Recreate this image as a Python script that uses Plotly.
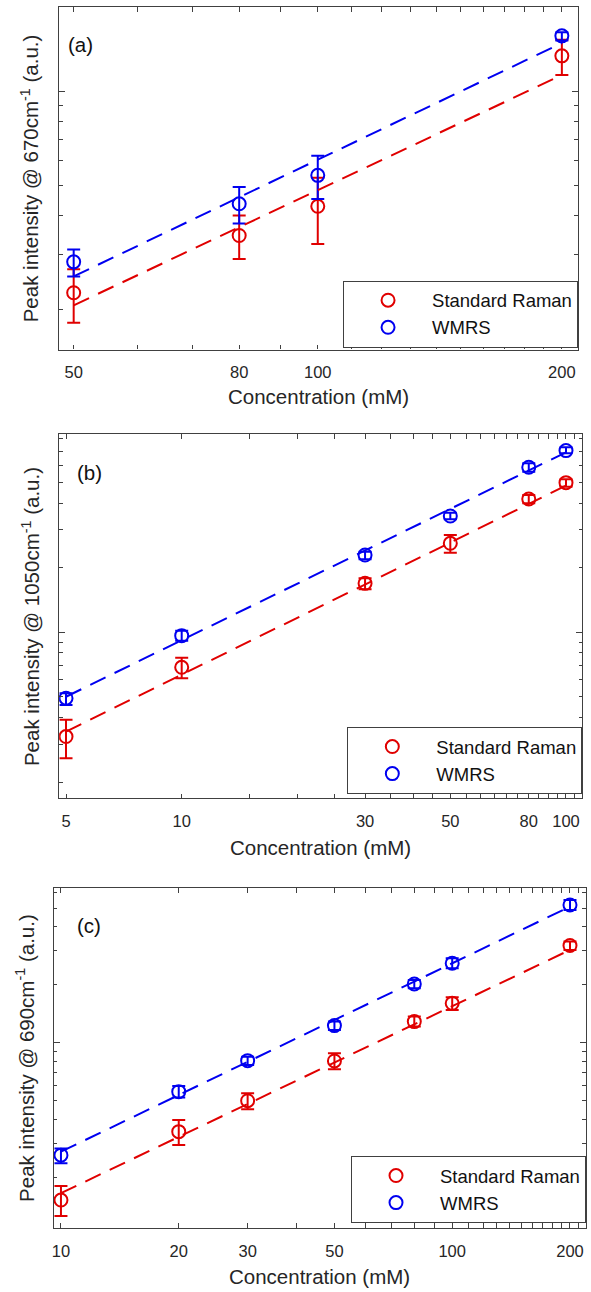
import plotly.graph_objects as go

W, H = 591, 1292

# ---------------- data ----------------
# Panel (a): peak @ 670 cm-1
conc_a = [50, 80, 100, 200]
raman_a = [226, 345, 428, 1301]
raman_a_plus = [43, 55, 101, 164]
raman_a_minus = [45, 55, 104, 172]
wmrs_a = [284, 436, 538, 1508]
wmrs_a_plus = [27, 58, 84, 42]
wmrs_a_minus = [29, 59, 86, 50]
fit_x_a = [50, 200]
fit_raman_a = [206, 1129]
fit_wmrs_a = [255, 1430]

# Panel (b): peak @ 1050 cm-1
conc_b = [5, 10, 30, 50, 80, 100]
raman_b = [326, 686, 1691, 2600, 4184, 4989]
raman_b_plus = [64, 75, 94, 243, 185, 181]
raman_b_minus = [68, 76, 105, 249, 188, 210]
wmrs_b = [492, 964, 2293, 3486, 5883, 7038]
wmrs_b_plus = [27, 53, 84, 128, 259, 256]
wmrs_b_minus = [34, 51, 104, 122, 268, 200]
fit_x_b = [5, 100]
fit_raman_b = [344, 4831]
fit_wmrs_b = [500, 6912]

# Panel (c): peak @ 690 cm-1
conc_c = [10, 20, 30, 50, 80, 100, 200]
raman_c = [152, 344.5, 499, 803, 1286, 1601, 3194]
raman_c_plus = [28, 51.5, 46, 77, 79, 119, 156]
raman_c_minus = [26.5, 50.8, 49, 77, 75, 123, 162]
wmrs_c = [260, 556, 806, 1226, 2018, 2584, 5194]
wmrs_c_plus = [22, 39, 39, 60, 99, 160, 321]
wmrs_c_minus = [24, 37, 41, 63, 102, 149, 301]
fit_x_c = [10, 200]
fit_raman_c = [165, 3032]
fit_wmrs_c = [271, 5093]

# tick labels
xtick_a = [50, 80, 100, 200]
xminor_a = [60, 70, 90, 110, 120, 130, 140, 150, 160, 170, 180, 190]
xtick_b = [5, 10, 30, 50, 80, 100]
xminor_b = [15, 20, 25, 35, 40, 45, 55, 60, 65, 70, 75, 85, 90, 95, 105, 110]
xtick_c = [10, 20, 30, 50, 100, 200]
xminor_c = [40, 60, 70, 80, 90, 110, 120, 130, 140, 150, 160, 170, 180, 190, 210]
ymajor = [1000]
yminor = [200, 300, 400, 500, 600, 700, 800, 900,
          2000, 3000, 4000, 5000, 6000, 7000, 8000, 9000]

series_names = ["Standard Raman", "WMRS"]
ylabels = ["Peak intensity @ 670cm<sup>-1</sup> (a.u.)",
           "Peak intensity @ 1050cm<sup>-1</sup> (a.u.)",
           "Peak intensity @ 690cm<sup>-1</sup> (a.u.)"]
panel_tags = ["(a)", "(b)", "(c)"]

# ---------------- styling ----------------
RED = "#e00000"
BLUE = "#0000f0"
AX = "#404040"
TXT = "#262626"
FONT = "Liberation Sans, Arial, Helvetica, sans-serif"

# pixel geometry of each panel: (left, right, top, bottom)
boxes = [(57.3, 578.0, 7.3, 349.5),
         (57.3, 582.3, 434.0, 798.3),
         (51.7, 586.0, 888.3, 1227.7)]
xranges = [[1.681, 2.321], [0.681, 2.0425], [0.981, 2.342]]
yranges = [[2.172, 3.27], [2.225, 3.925], [2.038, 3.802]]

def px(x):
    return x / W

def py(y):
    return 1 - y / H

fig = go.Figure()

panels = [
    (conc_a, raman_a, raman_a_plus, raman_a_minus, wmrs_a, wmrs_a_plus, wmrs_a_minus,
     fit_x_a, fit_raman_a, fit_wmrs_a, xtick_a, xminor_a),
    (conc_b, raman_b, raman_b_plus, raman_b_minus, wmrs_b, wmrs_b_plus, wmrs_b_minus,
     fit_x_b, fit_raman_b, fit_wmrs_b, xtick_b, xminor_b),
    (conc_c, raman_c, raman_c_plus, raman_c_minus, wmrs_c, wmrs_c_plus, wmrs_c_minus,
     fit_x_c, fit_raman_c, fit_wmrs_c, xtick_c, xminor_c),
]

layout = dict(width=W, height=H, margin=dict(l=0, r=0, t=0, b=0),
              paper_bgcolor="white", plot_bgcolor="white",
              font=dict(family=FONT, color=TXT), annotations=[])

for i, p in enumerate(panels):
    (cx, ry, rp, rm, wy, wp, wm, fx, fr, fw, xt, xm) = p
    sfx = "" if i == 0 else str(i + 1)
    xa, ya = "x" + sfx, "y" + sfx
    leg = "legend" if i == 0 else "legend" + str(i + 1)
    for name, yv, ep, em, col in [(series_names[0], ry, rp, rm, RED),
                                  (series_names[1], wy, wp, wm, BLUE)]:
        fig.add_trace(go.Scatter(
            x=cx, y=yv, mode="markers", name=name, xaxis=xa, yaxis=ya, legend=leg,
            marker=dict(symbol="circle-open", size=13, color=col, line=dict(width=2, color=col)),
            error_y=dict(type="data", array=ep, arrayminus=em, symmetric=False,
                         color=col, thickness=2, width=6.5),
        ))
    for yv, col in [(fr, RED), (fw, BLUE)]:
        fig.add_trace(go.Scatter(
            x=fx, y=yv, mode="lines", xaxis=xa, yaxis=ya, showlegend=False,
            line=dict(color=col, width=2, dash="17px,10px"), hoverinfo="skip",
        ))

    l, r, t, b = boxes[i]
    layout["xaxis" + sfx] = dict(
        type="log", range=xranges[i], domain=[px(l), px(r)], anchor=ya,
        tickmode="array", tickvals=xt, ticktext=[str(v) for v in xt],
        ticks="inside", ticklen=4.5, tickwidth=1, tickcolor=AX,
        minor=dict(tickmode="array", tickvals=xm, ticks="inside", ticklen=4.5,
                   tickwidth=1, tickcolor=AX, showgrid=False),
        showline=True, linecolor=AX, linewidth=1.2, mirror="ticks",
        showgrid=False, zeroline=False, ticklabelstandoff=8,
        tickfont=dict(size=16.5, color=TXT, family=FONT),
    )
    layout["yaxis" + sfx] = dict(
        type="log", range=yranges[i], domain=[py(b), py(t)], anchor=xa,
        tickmode="array", tickvals=ymajor, showticklabels=False,
        ticks="inside", ticklen=6, tickwidth=1, tickcolor=AX,
        minor=dict(tickmode="array", tickvals=yminor, ticks="inside", ticklen=3.5,
                   tickwidth=1, tickcolor=AX, showgrid=False),
        showline=True, linecolor=AX, linewidth=1.2, mirror="ticks",
        showgrid=False, zeroline=False,
    )
    # legend box at lower right
    leg_top = [280.7, 727.0, 1156.0][i]
    layout[leg] = dict(
        x=px(r), xanchor="right", y=py(leg_top), yanchor="top",
        bgcolor="white", bordercolor=AX, borderwidth=1,
        font=dict(size=18.5, color="#111111", family=FONT),
        itemwidth=78, tracegroupgap=0, traceorder="normal",
    )
    # axis titles and panel tags
    layout["annotations"].append(dict(
        text="Concentration (mM)", xref="paper", yref="paper",
        x=px((l + r) / 2), y=py([396.0, 847.0, 1276.5][i]),
        xanchor="center", yanchor="middle", showarrow=False,
        font=dict(size=20.5, color=TXT, family=FONT)))
    layout["annotations"].append(dict(
        text=ylabels[i], xref="paper", yref="paper", textangle=-90,
        x=px([28.0, 29.0, 23.0][i]), y=py((t + b) / 2),
        xanchor="center", yanchor="middle", showarrow=False,
        font=dict(size=20.5, color=TXT, family=FONT)))
    layout["annotations"].append(dict(
        text=panel_tags[i], xref="paper", yref="paper",
        x=px([79.0, 88.0, 87.0][i]), y=py([45.0, 472.0, 925.0][i]),
        xanchor="center", yanchor="middle", showarrow=False,
        font=dict(size=20.5, color="#111111", family=FONT)))

fig.update_layout(**layout)
fig.write_html("out.html", config={"displayModeBar": False},
               post_script="document.body.style.margin='0px';")
